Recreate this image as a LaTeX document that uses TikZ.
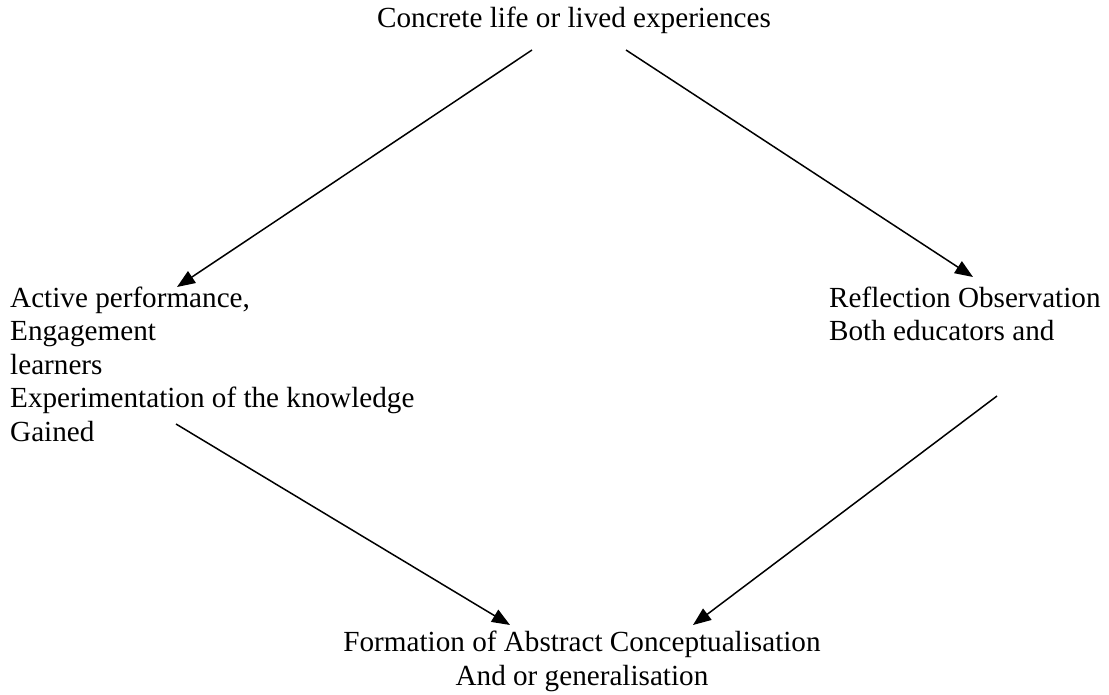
\documentclass[tikz,border=0pt]{standalone}
\usepackage{fontspec}
\setmainfont{Liberation Serif}
\usetikzlibrary{arrows.meta}
\begin{document}
\begin{tikzpicture}[x=1pt,y=-1pt,
  lbl/.style={inner sep=0pt, font=\fontsize{29.17}{33.5}\selectfont},
  conn/.style={line width=1.5pt, -{Triangle[length=18pt,width=14pt]}}]
\useasboundingbox (0,0) rectangle (1109,695);
\node[lbl, anchor=base west] (top) at (377,28) {Concrete life or lived experiences};
\node[lbl, anchor=base west, align=left] (left) at (10,441) {Active performance,\\Engagement\\learners\\Experimentation of the knowledge\\Gained};
\node[lbl, anchor=base west, align=left] (right) at (829,340.5) {Reflection Observation\\Both educators and};
\node[lbl, anchor=base, align=center] (bottom) at (582,685) {Formation of Abstract Conceptualisation\\And or generalisation};
\coordinate (a1s) at (532,50);
\coordinate (a1e) at (177,287);
\coordinate (a2s) at (626,50);
\coordinate (a2e) at (973,277);
\coordinate (a3s) at (176,424);
\coordinate (a3e) at (510,625);
\coordinate (a4s) at (997,396);
\coordinate (a4e) at (693,625);
\draw[conn] (a1s) -- (a1e);
\draw[conn] (a2s) -- (a2e);
\draw[conn] (a3s) -- (a3e);
\draw[conn] (a4s) -- (a4e);
\end{tikzpicture}
\end{document}
